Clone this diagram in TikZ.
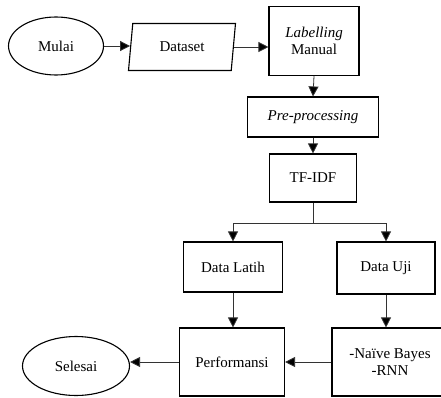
\documentclass[tikz,border=0pt]{standalone}
\usepackage{fontspec}
\setmainfont{Liberation Serif}
\usepackage{tikz}
\usetikzlibrary{positioning,shapes.geometric,arrows.meta}

\tikzset{
  blok/.style={draw,line width=1.1pt,align=center,inner sep=2pt,
    font=\fontsize{15}{17}\selectfont},
  oval/.style={blok,ellipse},
  miring/.style={blok,trapezium,trapezium left angle=73,trapezium right angle=107,
    trapezium stretches body},
  garis/.style={draw=black!80,line width=0.8pt},
  alur/.style={garis,-{Triangle[length=10pt,width=10pt,fill=black]}},
}

\begin{document}
\begin{tikzpicture}[x=1pt,y=1pt,yscale=-1,xscale=1]
\useasboundingbox (0,0) rectangle (441,398);

%Shape: Ellipse [Mulai]
\node[oval,minimum width=95,minimum height=58] (mulai) at (56,46) {Mulai};
%Shape: Parallelogram [Dataset]
\node[miring,minimum width=107,minimum height=47] (dataset) at (182,47) {Dataset};
%Shape: Rectangle [Labelling]
\node[blok,minimum width=90,minimum height=69] (label) at (314,41) {\textit{Labelling}\\Manual};
%Shape: Rectangle [Pre-processing]
\node[blok,minimum width=131,minimum height=40] (pre) at (313,117) {\textit{Pre-processing}};
%Shape: Rectangle [TF-IDF]
\node[blok,minimum width=87,minimum height=48] (tfidf) at (313,178) {TF-IDF};
%Shape: Rectangle [Data Latih]
\node[blok,minimum width=99,minimum height=50] (latih) at (233,267) {Data Latih};
%Shape: Rectangle [Data Uji]
\node[blok,minimum width=98,minimum height=52] (uji) at (386,268) {Data Uji};
%Shape: Rectangle [Performansi]
\node[blok,minimum width=105,minimum height=68] (perf) at (232,362) {Performansi};
%Shape: Rectangle [Metode]
\node[blok,minimum width=116,minimum height=68] (metode) at (390,362) {-Naïve Bayes\\-RNN};
%Shape: Ellipse [Selesai]
\node[oval,minimum width=107,minimum height=59] (selesai) at (76,366) {Selesai};

%Straight Lines
\draw[alur] (mulai.east) -- (mulai.east -| dataset.west);
\draw[alur] (dataset.east) -- (dataset.east -| label.west);
\draw[alur] (label.south) -- (pre.north);
\draw[alur] (pre.south) -- (tfidf.south |- tfidf.north);
\coordinate (cabang) at ([yshift=21]tfidf.south);
\draw[garis] (tfidf.south) -- (cabang);
\draw[alur] (cabang) -| (latih.north);
\draw[alur] (cabang) -| (uji.north);
\draw[alur] (latih.south) -- (latih.south |- perf.north);
\draw[alur] (uji.south) -- (uji.south |- metode.north);
\draw[alur] (metode.west) -- (perf.east);
\draw[alur] (perf.west) -- (perf.west -| selesai.east);
\end{tikzpicture}
\end{document}
